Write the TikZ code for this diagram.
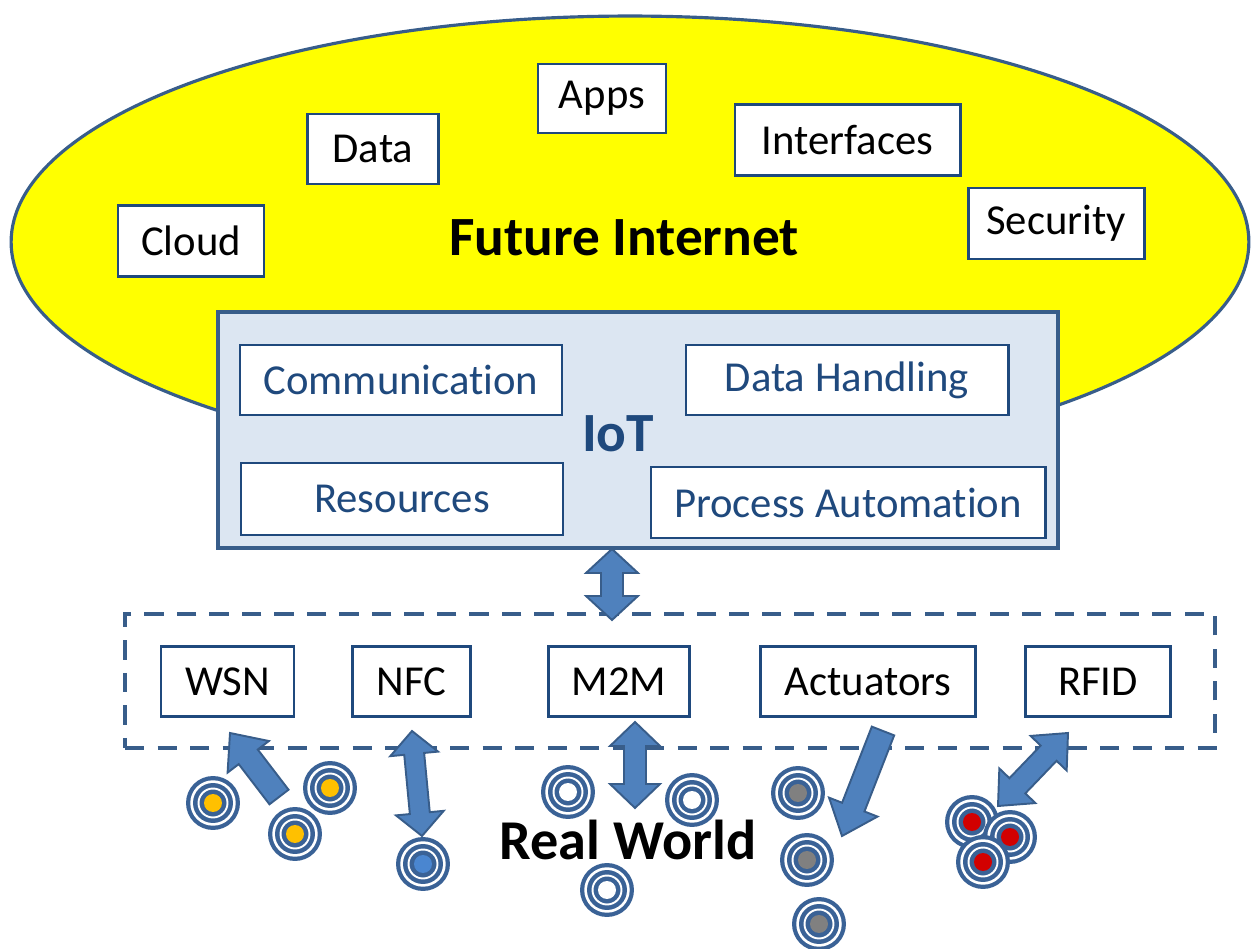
\documentclass[tikz,border=0pt]{standalone}
\usepackage{fontspec}
\setmainfont[Ligatures=NoCommon]{Carlito}
\usetikzlibrary{calc}
\definecolor{bord}{RGB}{56,93,138}
\definecolor{navy}{RGB}{31,73,125}
\definecolor{ablue}{RGB}{79,129,189}
\definecolor{iotfill}{RGB}{220,230,242}
\definecolor{tring}{RGB}{58,98,150}
\definecolor{tyellow}{RGB}{255,192,0}
\definecolor{tgray}{RGB}{128,128,128}
\definecolor{tred}{RGB}{210,0,0}
\definecolor{tblue}{RGB}{74,134,208}
\definecolor{fiyellow}{RGB}{255,255,0}
\tikzset{
  sz/.style 2 args={minimum width=#1*0.02cm, minimum height=#2*0.02cm},
  box/.style={draw=navy, line width=1.7pt, fill=white, inner sep=0pt, text=black,
    font=\fontsize{24.3}{28}\selectfont},
  iotbox/.style={box, text=navy},
  blockarrow/.style={fill=ablue, draw=bord, line width=1.1pt, line join=miter},
}
% single block arrow: tail, tip, shaft half width, head half width, head length
\newcommand{\sarrow}[5]{%
  \coordinate (n) at ($(#2)!#5!(#1)$);
  \filldraw[blockarrow] ($(#1)!#3!90:(#2)$) -- ($(n)!#3!90:(#2)$) -- ($(n)!#4!90:(#2)$)
    -- (#2) -- ($(n)!#4!-90:(#2)$) -- ($(n)!#3!-90:(#2)$) -- ($(#1)!#3!-90:(#2)$) -- cycle;}
% double block arrow
\newcommand{\darrow}[5]{%
  \coordinate (na) at ($(#1)!#5!(#2)$);
  \coordinate (nb) at ($(#2)!#5!(#1)$);
  \filldraw[blockarrow] (#1) -- ($(na)!#4!90:(#2)$) -- ($(na)!#3!90:(#2)$) -- ($(nb)!#3!90:(#2)$)
    -- ($(nb)!#4!90:(#2)$) -- (#2) -- ($(nb)!#4!-90:(#2)$) -- ($(nb)!#3!-90:(#2)$)
    -- ($(na)!#3!-90:(#2)$) -- ($(na)!#4!-90:(#2)$) -- cycle;}
% target: position, centre colour
\newcommand{\target}[2]{%
  \begin{scope}[shift={(#1)}]
    \fill[tring] (0,0) circle[radius=0.54cm];
    \fill[white] (0,0) circle[radius=0.455cm];
    \fill[tring] (0,0) circle[radius=0.40cm];
    \draw[white, line width=1.1pt] (0,0) circle[radius=0.29cm];
    \fill[#2] (0,0) circle[radius=0.18cm];
  \end{scope}}
\begin{document}
\begin{tikzpicture}[x=0.02cm,y=-0.02cm]
\useasboundingbox (0,0) rectangle (1252,949);
% Future Internet ellipse
\draw[fill=fiyellow, draw=bord, line width=1.8pt] (630,242) ellipse [x radius=12.38cm, y radius=4.52cm];
\node[font=\fontsize{31.5}{36}\selectfont\bfseries] (fi) at (624,238) {Future Internet};
\node[box, sz={146}{71}] (cloud) at (191,241) {Cloud};
\node[box, sz={131}{70}] (data) at (373,149) {Data};
\node[box, sz={128}{69}] (apps) at (602,98.5) {Apps};
\node[box, sz={225}{71}] (interfaces) at (847.5,140) {Interfaces};
\node[box, sz={176}{71}] (security) at (1056,223.5) {Security};
% IoT box
\node[draw=bord, fill=iotfill, line width=2.8pt, sz={840}{236}] (iot) at (638,430) {};
\node[font=\fontsize{31.5}{36}\selectfont\bfseries, text=navy] (iotlabel) at (618,434) {IoT};
\node[iotbox, sz={322}{70}] (comm) at (401,380) {Communication};
\node[iotbox, sz={322}{70}] (dh) at (847,380) {Data Handling};
\node[iotbox, sz={322}{72}] (res) at (402,499) {Resources};
\node[iotbox, sz={394}{71}] (pa) at (848,502.5) {Process Automation};
% device layer
\node[draw=bord, line width=2.3pt, dash pattern=on 11pt off 7.5pt, sz={1090}{134}] (layer) at (670,681) {};
\node[box, sz={133}{70}] (wsn) at (227.5,681.5) {WSN};
\node[box, sz={118}{70}] (nfc) at (411.5,681.5) {NFC};
\node[box, sz={141}{70}] (m2m) at (619,681.5) {M2M};
\node[box, sz={215}{70}] (act) at (868,681.5) {Actuators};
\node[box, sz={145}{70}] (rfid) at (1098,681.5) {RFID};
% IoT <-> layer arrow
\darrow{612,549}{612,620}{0.22cm}{0.52cm}{0.48cm}
% Real World
\node[font=\fontsize{32}{38}\selectfont\bfseries] (rw) at (628,840) {Real World};
% targets
\target{213,803}{tyellow}
\target{330,788}{tyellow}
\target{295,834}{tyellow}
\target{423,864}{tblue}
\target{568,792}{white}
\target{692,800}{white}
\target{607,890}{white}
\target{798,793}{tgray}
\target{807,860}{tgray}
\target{819,924}{tgray}
\target{972,822}{tred}
\target{1010,837}{tred}
\target{983,862}{tred}
% arrows to real world
\sarrow{279,797}{230,733}{0.24cm}{0.52cm}{0.6cm}
\darrow{412,731}{422,836}{0.2cm}{0.48cm}{0.46cm}
\darrow{635,722}{635,808}{0.22cm}{0.5cm}{0.48cm}
\sarrow{883,731}{842,836}{0.24cm}{0.52cm}{0.62cm}
\darrow{998,806}{1068,733}{0.22cm}{0.5cm}{0.56cm}
\end{tikzpicture}
\end{document}
